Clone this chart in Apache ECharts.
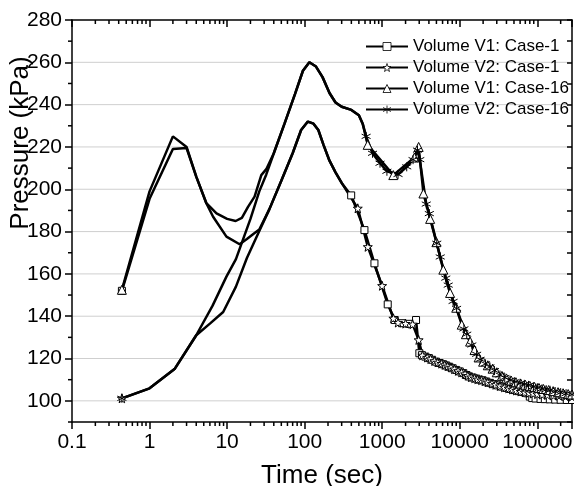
<!DOCTYPE html>
<html>
<head>
<meta charset="utf-8">
<script src="https://cdn.jsdelivr.net/npm/echarts@6/dist/echarts.min.js"></script>
<style>
  html, body { margin: 0; padding: 0; background: #fff; }
  #chart { width: 574px; height: 486px; }
</style>
</head>
<body>
<div id="chart"></div>
<script>
// pressure (kPa) vs time (sec)
var v1Case1 = [
  [0.44, 152], [1, 195.5], [2, 219], [3, 219.5], [4, 206], [5.4, 193.4], [6.6, 187], [9.8, 177.6],
  [14.5, 174], [18, 176.5], [22, 179], [26, 181], [35, 190.5], [50, 204], [70, 217], [90, 228],
  [110, 232], [130, 231], [150, 228], [175, 221], [209, 213.5], [250, 208], [300, 203],
  [398, 197.1], [590, 180.7], [794, 165], [1178, 145.6], [1450, 138.2], [1800, 136.7], [2200, 136.4],
  [2730, 138.2], [3013, 122.5], [3250, 121.6], [3600, 120.9], [4000, 120.2], [4400, 119.4],
  [4940, 118.5], [5500, 117.9], [6100, 117.3], [6700, 116.7], [7330, 116.1], [8100, 115.4],
  [9000, 114.6], [10000, 113.9], [11100, 113.1], [12200, 112.2], [13250, 111.5], [14700, 111],
  [16300, 110.5], [18000, 110], [19700, 109.7], [22000, 109.1], [24500, 108.5], [27500, 107.9],
  [31000, 107.3], [35000, 106.7], [40000, 106.1], [45000, 105.6], [50000, 105.1], [57000, 104.6],
  [65000, 104.2], [74000, 103.6], [80000, 102], [86000, 101.3], [95000, 101.1], [110000, 100.9],
  [125000, 100.8], [145000, 100.7], [170000, 100.6], [200000, 100.5], [240000, 100.4], [280000, 100.4]
];
var v2Case1 = [
  [0.44, 101.2], [1, 105.9], [2.1, 115], [4, 131], [6, 136.5], [8.9, 142], [13, 154], [18, 167.5],
  [26, 180.3], [35, 190.5], [50, 204], [70, 217], [90, 228], [110, 232], [130, 231], [150, 228],
  [175, 221], [209, 213.5], [250, 208], [300, 203], [484, 191], [652, 172.8], [998, 154.4],
  [1393, 139], [1600, 137], [2000, 136.5], [2470, 136.2], [2950, 128.8], [3300, 121.5],
  [3800, 120.5], [4200, 119.8], [4700, 118.9], [5200, 118.2], [5800, 117.6], [6400, 117],
  [7000, 116.4], [7700, 115.8], [8500, 115], [9500, 114.2], [10500, 113.5], [11700, 112.7],
  [12700, 111.9], [14000, 111.2], [15500, 110.7], [17000, 110.2], [19000, 109.8], [21000, 109.3],
  [23000, 108.8], [26000, 108.2], [29000, 107.6], [33000, 107], [37500, 106.4], [42500, 105.9],
  [47500, 105.4], [53500, 104.9], [61000, 104.4], [69000, 104], [78000, 103.7], [88000, 103.5],
  [100000, 103.2], [115000, 103], [135000, 102.8], [160000, 102.6], [190000, 102.4],
  [230000, 102.2], [280000, 102]
];
var v1Case16 = [
  [0.44, 152.5], [1, 199], [2, 225], [3, 220], [4, 206], [5.4, 193.4], [7.3, 188.6], [10, 186],
  [12.9, 185], [15.5, 186.5], [18.6, 191.7], [22.6, 196.5], [27.6, 206.7], [32, 209.5], [40, 217],
  [55, 231], [75, 245], [95, 256], [115, 260], [140, 258], [170, 253], [209, 245.5], [250, 241],
  [300, 239], [400, 237.5], [500, 235], [560, 231], [650, 221], [1390, 206.7], [2600, 215],
  [2950, 220], [3400, 198], [4150, 186], [5000, 175], [6140, 162], [7500, 151], [9000, 144],
  [10600, 136], [12000, 131.5], [13600, 128], [15500, 124], [17500, 120.5], [20000, 118.5],
  [23000, 116.8], [26500, 115.2], [30000, 113.5], [35000, 111.8], [40000, 110.6], [46000, 109.6],
  [53000, 108.8], [61000, 108.2], [70000, 107.6], [80000, 107.1], [92000, 106.6], [105000, 106.1],
  [120000, 105.6], [140000, 105.1], [160000, 104.6], [185000, 104.1], [215000, 103.6],
  [250000, 103.2], [280000, 103]
];
var v2Case16 = [
  [0.44, 101.2], [1, 105.9], [2.1, 115], [4, 131], [6.5, 145], [9.8, 158.7], [13, 167], [20, 186],
  [26, 199], [32, 207], [40, 217], [55, 231], [75, 245], [95, 256], [115, 260], [140, 258],
  [170, 253], [209, 245.5], [250, 241], [300, 239], [400, 237.5], [500, 235], [560, 231],
  [620, 225], [750, 217], [937, 212.3], [1150, 208.5], [1600, 207], [2070, 210.6], [2500, 214],
  [2850, 218.5], [3050, 214], [3700, 193], [4050, 188.5], [5050, 174.5], [5600, 168], [6600, 158],
  [7100, 154.7], [8200, 147], [9100, 143.7], [11300, 134], [12300, 131.5], [14300, 126.4],
  [16500, 122], [18300, 119.6], [21500, 117.5], [24500, 116], [28000, 114.3], [33000, 112.2],
  [38000, 111], [44400, 109.8], [51000, 109], [60000, 108.3], [68000, 107.8], [77000, 107.3],
  [89000, 106.7], [100000, 106.2], [115000, 105.7], [130000, 105.3], [146000, 105],
  [170000, 104.4], [200000, 103.9], [235000, 103.4], [280000, 103]
];

var seriesNames = ['Volume V1: Case-1', 'Volume V2: Case-1', 'Volume V1: Case-16', 'Volume V2: Case-16'];
var yMajorTicks = [100, 120, 140, 160, 180, 200, 220, 240, 260, 280];
var yMinorTicks = [90, 110, 130, 150, 170, 190, 210, 230, 250, 270];
var yGridLines = [100, 120, 140, 160, 180, 200, 220, 240, 260];
var xMinorTicks = [
  0.2, 0.3, 0.4, 0.5, 0.6, 0.7, 0.8, 0.9,
  2, 3, 4, 5, 6, 7, 8, 9,
  20, 30, 40, 50, 60, 70, 80, 90,
  200, 300, 400, 500, 600, 700, 800, 900,
  2000, 3000, 4000, 5000, 6000, 7000, 8000, 9000,
  20000, 30000, 40000, 50000, 60000, 70000, 80000, 90000,
  200000
];

var X_MIN = 0.1, X_MAX = 280000, Y_MIN = 90, Y_MAX = 280;
var FONT = '"Liberation Sans", Arial, sans-serif';

var chart = echarts.init(document.getElementById('chart'), null, { renderer: 'canvas' });

var starPath = 'path://M0,-10L2.35,-3.24L9.51,-3.09L3.8,1.24L5.88,8.09L0,4L-5.88,8.09L-3.8,1.24L-9.51,-3.09L-2.35,-3.24Z';
var asteriskPath = 'path://M0,-10L0,10M-8.66,-5L8.66,5M-8.66,5L8.66,-5';
var hollow = { color: '#fff', borderColor: '#000', borderWidth: 1 };

function curve(name, data, symbol, size, markFrom) {
  return {
    name: name,
    type: 'line',
    data: data,
    symbol: symbol,
    symbolSize: function (val, params) {
      return (params.dataIndex === 0 || val[0] >= markFrom) ? size : 0;
    },
    showSymbol: true,
    lineStyle: { color: '#000', width: 2.5 },
    itemStyle: hollow,
    z: 3
  };
}

function hLine(x1, y1, x2, y2) {
  return { type: 'line', shape: { x1: x1, y1: y1, x2: x2, y2: y2 }, style: { stroke: '#000', lineWidth: 1.5 } };
}

var option = {
  animation: false,
  textStyle: { fontFamily: FONT },
  grid: { left: 72, right: 2, top: 20, bottom: 64, containLabel: false, outerBoundsMode: 'none' },
  legend: {
    data: seriesNames.map(function (n) {
      return { name: n, itemStyle: { color: '#fff', borderColor: '#000', borderWidth: 0.8 }, lineStyle: { color: '#000', width: 2 } };
    }),
    orient: 'vertical',
    left: 360,
    top: 33,
    itemWidth: 42,
    itemHeight: 10,
    itemGap: 4,
    selectedMode: false,
    textStyle: { fontSize: 17, color: '#000', fontFamily: FONT }
  },
  xAxis: [
    {
      type: 'log',
      logBase: 10,
      min: X_MIN,
      max: X_MAX,
      position: 'bottom',
      name: 'Time (sec)',
      nameLocation: 'middle',
      nameGap: 41,
      nameTextStyle: { fontSize: 26, color: '#000', fontFamily: FONT },
      axisLine: { lineStyle: { color: '#000', width: 1.5 } },
      axisTick: { length: 7, lineStyle: { color: '#000', width: 1.5 } },
      axisLabel: {
        fontSize: 21, color: '#000', margin: 10, fontFamily: FONT,
        formatter: function (v) {
          var lg = Math.log10(v);
          if (Math.abs(lg - Math.round(lg)) > 1e-6) return '';
          return String(+v.toPrecision(6));
        }
      },
      splitLine: { show: false },
      minorTick: { show: false }
    },
    {
      type: 'log',
      logBase: 10,
      min: X_MIN,
      max: X_MAX,
      position: 'top',
      axisLine: { lineStyle: { color: '#000', width: 1.5 } },
      axisTick: { inside: true, length: 7, lineStyle: { color: '#000', width: 1.5 } },
      axisLabel: { show: false },
      splitLine: { show: false }
    }
  ],
  yAxis: [
    {
      type: 'value',
      min: Y_MIN,
      max: Y_MAX,
      interval: 10,
      position: 'left',
      axisLine: { show: true, lineStyle: { color: '#000', width: 1.5 } },
      axisTick: { show: true, length: 7, customValues: yMajorTicks, lineStyle: { color: '#000', width: 1.5 } },
      axisLabel: {
        fontSize: 21, color: '#000', margin: 10, fontFamily: FONT,
        customValues: yMajorTicks,
        formatter: function (v) { return v % 20 === 0 ? String(v) : ''; }
      },
      splitLine: { show: false }
    },
    {
      type: 'value',
      min: Y_MIN,
      max: Y_MAX,
      interval: 10,
      position: 'right',
      axisLine: { show: true, lineStyle: { color: '#000', width: 1.5 } },
      axisTick: { show: true, inside: true, length: 5, lineStyle: { color: '#000', width: 1.5 } },
      axisLabel: { show: false },
      splitLine: { show: false }
    }
  ],
  graphic: [
    {
      type: 'text',
      x: 21,
      y: 143,
      rotation: Math.PI / 2,
      style: {
        text: 'Pressure (kPa)',
        fontSize: 26,
        fontFamily: FONT,
        fill: '#000',
        align: 'center',
        verticalAlign: 'middle'
      },
      z: 10
    }
  ],
  series: [
    {
      name: 'grid',
      type: 'custom',
      silent: true,
      z: 0,
      clip: false,
      data: yGridLines.map(function (v) { return [X_MIN, v]; }),
      renderItem: function (params, api) {
        var a = api.coord([X_MIN, api.value(1)]);
        var b = api.coord([X_MAX, api.value(1)]);
        return { type: 'line', shape: { x1: a[0], y1: a[1], x2: b[0], y2: b[1] }, style: { stroke: '#cfcfcf', lineWidth: 1 } };
      }
    },
    {
      name: 'xminor',
      type: 'custom',
      silent: true,
      z: 1,
      clip: false,
      data: xMinorTicks.map(function (t) { return [t, Y_MIN]; }),
      renderItem: function (params, api) {
        var b = api.coord([api.value(0), Y_MIN]);
        var t = api.coord([api.value(0), Y_MAX]);
        return { type: 'group', children: [hLine(b[0], b[1], b[0], b[1] + 4), hLine(t[0], t[1], t[0], t[1] + 4)] };
      }
    },
    {
      name: 'yminor',
      type: 'custom',
      silent: true,
      z: 1,
      clip: false,
      data: yMinorTicks.map(function (v) { return [X_MIN, v]; }),
      renderItem: function (params, api) {
        var l = api.coord([X_MIN, api.value(1)]);
        return hLine(l[0] - 4, l[1], l[0], l[1]);
      }
    },
    curve(seriesNames[0], v1Case1, 'rect', 7, 350),
    curve(seriesNames[1], v2Case1, starPath, 9, 350),
    curve(seriesNames[2], v1Case16, 'triangle', 9, 600),
    curve(seriesNames[3], v2Case16, asteriskPath, 9, 600)
  ]
};

chart.setOption(option);
</script>
</body>
</html>
